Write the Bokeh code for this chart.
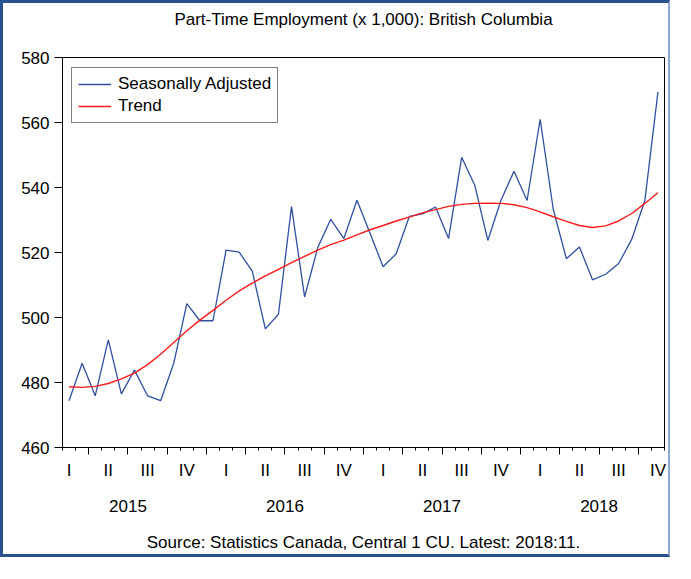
from bokeh.plotting import figure
from bokeh.models import (Range1d, LinearAxis, FixedTicker, Legend, LegendItem,
                          CustomLabelingPolicy)
from bokeh.embed import file_html
from bokeh.resources import INLINE

# ---------------- data ----------------
title_text = "Part-Time Employment (x 1,000): British Columbia"
source_text = "Source: Statistics Canada, Central 1 CU. Latest: 2018:11."
first_month = (2015, 2)   # first observation: 2015:02, last: 2018:11

seasonally_adjusted = [
    474.4, 485.9, 475.9, 493.1, 476.5, 483.8, 475.9, 474.4, 485.9, 504.3,
    499.0, 499.0, 520.7, 520.1, 514.3, 496.5, 501.0, 534.1, 506.3, 521.5,
    530.2, 524.3, 536.1, 525.9, 515.6, 519.6, 531.1, 531.9, 534.0, 524.3,
    549.3, 540.7, 523.7, 536.0, 545.0, 536.0, 561.0, 533.3, 518.1, 521.7,
    511.6, 513.3, 516.6, 524.1, 536.0, 569.4,
]
trend = [
    478.7, 478.5, 478.8, 479.7, 481.1, 482.9, 485.5, 488.7, 492.3, 495.9,
    499.2, 502.2, 505.3, 508.2, 510.6, 512.8, 514.8, 516.9, 518.8, 520.7,
    522.4, 523.8, 525.4, 527.0, 528.3, 529.7, 530.9, 532.2, 533.2, 534.2,
    534.8, 535.1, 535.2, 535.1, 534.7, 533.8, 532.5, 531.0, 529.6, 528.3,
    527.7, 528.2, 529.7, 532.0, 535.1, 538.4,
]
quarter_labels = ["I", "II", "III", "IV"]
years = [2015, 2016, 2017, 2018]
y_ticks = [460, 480, 500, 520, 540, 560, 580]

FONT = "Liberation Sans"
FS = "17px"


def month_index(year, month):
    return (year - first_month[0]) * 12 + (month - first_month[1])


n = len(seasonally_adjusted)
x = list(range(n))

month_bounds = [month_index(yr, m) - 0.5 for yr in years for m in range(1, 13)]
month_bounds = [b for b in month_bounds if -0.5 <= b <= n - 0.5]
quarter_bounds = [month_index(yr, 3 * q + 1) - 0.5 for yr in years for q in range(4)]
quarter_bounds = [b for b in quarter_bounds if -0.5 < b < n - 0.5]
quarter_centers = [month_index(yr, 3 * q + 2) for yr in years for q in range(4)]
quarter_text = {c: quarter_labels[i % 4] for i, c in enumerate(quarter_centers)}
year_centers = [(month_index(yr, 1) + month_index(yr, 12)) / 2 for yr in years]
year_text = {c: str(yr) for c, yr in zip(year_centers, years)}

# ---------------- figure ----------------
p = figure(width=670, height=557,
           x_range=Range1d(-0.5, n - 0.5), y_range=Range1d(460, 580),
           x_axis_type=None, output_backend="svg", toolbar_location=None,
           title_location=None,
           min_border_left=59, min_border_right=9,
           min_border_top=54, min_border_bottom=113)
p.ygrid.visible = False
p.outline_line_color = "black"
p.outline_line_width = 1
p.background_fill_color = "white"
p.border_fill_color = "white"
p.styles = {"border-left": "3px solid #27528f", "border-top": "3px solid #27528f",
            "border-bottom": "3px solid #27528f", "border-right": "2px solid #8ea8d4"}


def text_axis(ticks, overrides=None):
    ax = LinearAxis(ticker=FixedTicker(ticks=ticks, minor_ticks=[]),
                    major_label_overrides=overrides or {})
    ax.axis_line_color = None
    ax.major_tick_line_color = None
    ax.minor_tick_line_color = None
    ax.major_tick_out = 0
    ax.major_tick_in = 0
    ax.minor_tick_out = 0
    ax.minor_tick_in = 0
    ax.major_label_text_font = FONT
    ax.major_label_text_font_size = FS
    ax.major_label_text_color = "black"
    ax.axis_label_text_font = FONT
    ax.axis_label_text_font_size = FS
    ax.axis_label_text_font_style = "normal"
    ax.axis_label_text_color = "black"
    return ax


# title (drawn as the label of an undecorated top axis)
title_axis = text_axis([])
title_axis.axis_label = title_text
title_axis.major_label_standoff = 0
title_axis.axis_label_standoff = 29
p.add_layout(title_axis, "above")

yax = p.yaxis[0]
yax.ticker = FixedTicker(ticks=y_ticks, minor_ticks=[])
yax.major_tick_out = 8
yax.major_tick_in = 0
yax.axis_line_color = "black"
yax.major_tick_line_color = "black"
yax.major_label_text_font = FONT
yax.major_label_text_font_size = FS
yax.major_label_text_color = "black"
yax.major_label_standoff = 5

tick_axis = LinearAxis(ticker=FixedTicker(ticks=quarter_bounds, minor_ticks=month_bounds))
tick_axis.major_label_policy = CustomLabelingPolicy(code="return new Set()")
tick_axis.major_label_text_font_size = "1px"
tick_axis.major_label_standoff = 0
tick_axis.major_tick_out = 7
tick_axis.major_tick_in = 0
tick_axis.minor_tick_out = 3
tick_axis.minor_tick_in = 0
tick_axis.axis_line_color = "black"
tick_axis.major_tick_line_color = "black"
tick_axis.minor_tick_line_color = "black"
p.add_layout(tick_axis, "below")

q_axis = text_axis(quarter_centers, quarter_text)
q_axis.major_label_standoff = 2
p.add_layout(q_axis, "below")

year_axis = text_axis(year_centers, year_text)
year_axis.major_label_standoff = 17
year_axis.axis_label = source_text
year_axis.axis_label_standoff = 18
p.add_layout(year_axis, "below")

r_sa = p.line(x, seasonally_adjusted, line_color="#2f4fa3", line_width=1.3)
r_tr = p.line(x, trend, line_color="#ff1a1a", line_width=1.4)

legend = Legend(items=[LegendItem(label="Seasonally Adjusted", renderers=[r_sa]),
                       LegendItem(label="Trend", renderers=[r_tr])],
                location=(9, 324))
legend.border_line_color = "black"
legend.border_line_width = 1
legend.label_text_font = FONT
legend.label_text_font_size = FS
legend.label_text_color = "black"
legend.glyph_width = 33
legend.glyph_height = 20
legend.label_height = 20
legend.label_standoff = 7
legend.padding = 6
legend.spacing = 2
legend.margin = 0
legend.background_fill_alpha = 1
p.add_layout(legend, "center")

open("out.html", "w").write(file_html(p, INLINE))
